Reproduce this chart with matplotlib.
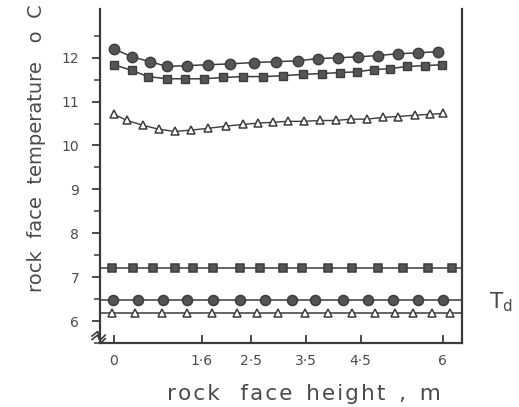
import numpy as np
import matplotlib
matplotlib.use("Agg")
import matplotlib.pyplot as plt

# rock face height (m) and temperature (deg C) for each profile
x_circ = [0, 0.33, 0.66, 0.97, 1.33, 1.71, 2.12, 2.55, 2.95, 3.36, 3.72, 4.09, 4.45, 4.81, 5.18, 5.54, 5.91]
t_circ = [12.20, 12.02, 11.91, 11.80, 11.82, 11.84, 11.86, 11.89, 11.91, 11.93, 11.98, 12.00, 12.02, 12.05, 12.09, 12.11, 12.14]

x_sq = [0, 0.33, 0.62, 0.97, 1.29, 1.64, 1.99, 2.35, 2.72, 3.08, 3.45, 3.79, 4.12, 4.43, 4.74, 5.03, 5.34, 5.67, 5.98]
t_sq = [11.84, 11.71, 11.57, 11.52, 11.52, 11.52, 11.55, 11.57, 11.57, 11.59, 11.62, 11.64, 11.66, 11.68, 11.73, 11.75, 11.80, 11.82, 11.84]

x_tri = [0, 0.24, 0.53, 0.82, 1.11, 1.40, 1.71, 2.04, 2.35, 2.63, 2.90, 3.17, 3.46, 3.76, 4.05, 4.32, 4.61, 4.91, 5.18, 5.49, 5.76, 6.00]
t_tri = [10.71, 10.57, 10.46, 10.37, 10.32, 10.35, 10.39, 10.44, 10.48, 10.51, 10.53, 10.55, 10.55, 10.57, 10.57, 10.60, 10.60, 10.64, 10.66, 10.69, 10.71, 10.73]

# dew point (Td) profiles
xd_sq = [-0.04, 0.35, 0.71, 1.11, 1.44, 1.81, 2.30, 2.66, 3.08, 3.43, 3.90, 4.34, 4.81, 5.27, 5.73, 6.16]
td_sq = [7.22] * len(xd_sq)
xd_circ = [-0.02, 0.44, 0.89, 1.33, 1.81, 2.30, 2.75, 3.25, 3.67, 4.18, 4.63, 5.09, 5.54, 6.00]
td_circ = [6.49] * len(xd_circ)
xd_tri = [-0.04, 0.38, 0.88, 1.33, 1.79, 2.24, 2.61, 2.99, 3.48, 3.90, 4.34, 4.76, 5.12, 5.45, 5.80, 6.13]
td_tri = [6.18] * len(xd_tri)

xticks = [0, 1.6, 2.5, 3.5, 4.5, 6]
xticklabels = ["0", "1·6", "2·5", "3·5", "4·5", "6"]
yticks = [6, 7, 8, 9, 10, 11, 12]

ink = "#3c3c3c"
fill = "#555555"
txt = "#4a4a4a"
plt.rcParams["font.family"] = "DejaVu Sans"


def spaced(s):
    # open up the letter spacing with hair spaces
    return "\u200a".join(s)


fig = plt.figure(figsize=(5.19, 4.07), dpi=100)
ax = fig.add_axes([100/519, 1-343/407, 362/519, 334/407])

ax.plot(x_circ, t_circ, "-o", color=ink, lw=1.1, mfc=fill, mec=ink, ms=7.5)
ax.plot(x_sq, t_sq, "-s", color=ink, lw=1.1, mfc=fill, mec=ink, ms=5.2)
ax.plot(x_tri, t_tri, "-^", color=ink, lw=1.0, mfc="white", mec=ink, ms=6, mew=1.1)

for xs, ts, mk, ms, mf in [(xd_sq, td_sq, "s", 6.2, fill),
                           (xd_circ, td_circ, "o", 7.2, fill),
                           (xd_tri, td_tri, "^", 6, "white")]:
    ax.axhline(ts[0], color=ink, lw=1.1, zorder=1)
    ax.plot(xs, ts, mk, ls="none", mfc=mf, mec=ink, ms=ms, mew=1.1, zorder=2)

ax.set_xlim(-0.255, 6.35)
ax.set_ylim(5.55, 13.11)

ax.spines["top"].set_visible(False)
for s in ["left", "right", "bottom"]:
    ax.spines[s].set_color(ink)
    ax.spines[s].set_linewidth(1.6)

ax.set_yticks(yticks)
ax.set_yticks(np.arange(5.5, 13.0, 0.5), minor=True)
ax.set_xticks(xticks)
ax.set_xticklabels(xticklabels)
ax.tick_params(axis="y", which="major", direction="out", length=6, width=1.3,
               color=ink, labelcolor=txt, labelsize=10, pad=9)
ax.tick_params(axis="y", which="minor", direction="out", length=4, width=1.1, color=ink)
ax.tick_params(axis="x", direction="in", length=6, width=1.3, color=ink,
               labelcolor=txt, labelsize=10, pad=8)

# axis break mark at the foot of the temperature axis
ax.plot([-0.40, -0.30, -0.24, -0.16], [5.66, 5.76, 5.58, 5.68], color=ink, lw=1.2, clip_on=False)
ax.plot([-0.40, -0.30, -0.24, -0.16], [5.58, 5.68, 5.50, 5.60], color=ink, lw=1.2, clip_on=False)

fig.text(304/519, 1-394/407, spaced("rock") + "   " + spaced("face") + "  " + spaced("height")
         + "  ,  " + "m", ha="center", va="center", fontsize=15.5, color=txt)
fig.text(37/519, 1-148/407, "rock  face  temperature   o  C", ha="center", va="center",
         rotation=90, fontsize=14, color=txt)
fig.text(489/519, 1-302/407, r"$\mathregular{T_d}$", ha="left", va="center",
         fontsize=15.5, color=txt)

fig.savefig("out.png", dpi=100)
